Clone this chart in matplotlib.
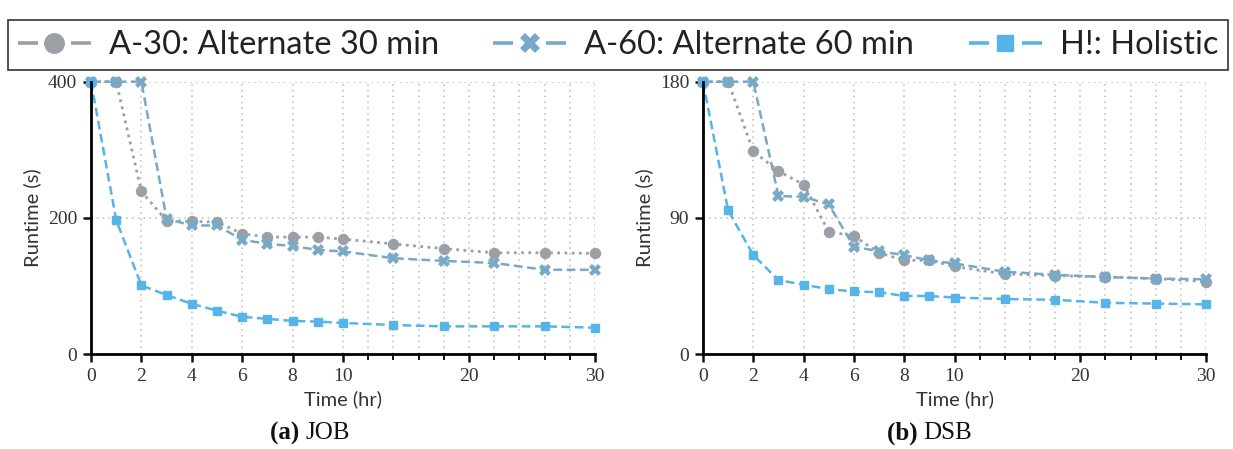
import numpy as np
import matplotlib
matplotlib.use("Agg")
import matplotlib.pyplot as plt
from matplotlib.lines import Line2D
from matplotlib.ticker import FixedLocator

# Time checkpoints (hours)
hours = [0, 1, 2, 3, 4, 5, 6, 7, 8, 9, 10, 14, 18, 22, 26, 30]

# JOB runtimes (s)
job_a30 = [400, 400, 239, 196, 195, 194, 177, 172, 172, 172, 169, 162, 155, 149, 149, 148]
job_a60 = [400, 400, 400, 199, 189, 189, 168, 162, 159, 153, 151, 141, 137, 134, 124, 124]
job_h = [400, 197, 101, 87, 74, 64, 55, 52, 49, 48, 46, 43, 41, 41, 41, 39]

# DSB runtimes (s)
dsb_a30 = [180, 180, 134, 121, 112, 81, 78, 67, 62, 62, 58, 53, 52, 51, 50, 48]
dsb_a60 = [180, 180, 180, 104.5, 104, 99, 71, 68, 65.5, 62, 60, 54.5, 52.5, 51, 50, 49.5]
dsb_h = [180, 95, 65.5, 49, 46, 43, 41.5, 41, 38.5, 38.5, 37.5, 36.5, 36, 34, 33.5, 33]

series_names = ["A-30: Alternate 30 min", "A-60: Alternate 60 min", "H!: Holistic"]
panel_titles = [("(a)", "JOB"), ("(b)", "DSB")]
y_limits = [400, 180]
y_ticks = [[0, 200, 400], [0, 90, 180]]
x_major = [0, 2, 4, 6, 8, 10, 20, 30]
x_minor = [12, 14, 16, 18, 22, 24, 26, 28]

c_a30 = "#9aa0a6"
c_a60 = "#78a9c6"
c_h = "#56b4e9"

SANS = ["Lato", "DejaVu Sans"]
SERIF = ["Liberation Serif", "DejaVu Serif"]


def fwd(x):
    x = np.asarray(x, dtype=float)
    return np.where(x <= 10, x, 10 + (x - 10) / 2.0)


def inv(y):
    y = np.asarray(y, dtype=float)
    return np.where(y <= 10, y, 10 + (y - 10) * 2.0)


W, H = 1233, 449
fig = plt.figure(figsize=(W / 100, H / 100), dpi=100)

axes_px = [(91, 595), (703, 1206)]
top_px, bot_px = 81.7, 354.3

datasets = [(job_a30, job_a60, job_h), (dsb_a30, dsb_a60, dsb_h)]

for i, (lpx, rpx) in enumerate(axes_px):
    ax = fig.add_axes([lpx / W, 1 - bot_px / H, (rpx - lpx) / W, (bot_px - top_px) / H])
    ax.set_xscale("function", functions=(fwd, inv))
    a30, a60, hh = datasets[i]

    ax.plot(hours, a30, color=c_a30, linestyle=(0, (1, 1.6)), lw=2.0,
            marker="o", markersize=7.2, clip_on=False, zorder=3)
    ax.plot(hours, a60, color=c_a60, linestyle=(0, (3.5, 1.8)), lw=1.8,
            marker="X", markersize=8.5, markeredgewidth=0, clip_on=False, zorder=4)
    ax.plot(hours, hh, color=c_h, linestyle=(0, (3.5, 1.8)), lw=1.8,
            marker="s", markersize=6, clip_on=False, zorder=5)

    ax.set_xlim(0, 30)
    ax.set_ylim(0, y_limits[i])
    ax.xaxis.set_major_locator(FixedLocator(x_major))
    ax.xaxis.set_minor_locator(FixedLocator(x_minor))
    ax.yaxis.set_major_locator(FixedLocator(y_ticks[i]))
    ax.yaxis.set_minor_locator(FixedLocator([]))

    for s in ["top", "right"]:
        ax.spines[s].set_visible(False)
    for s in ["left", "bottom"]:
        ax.spines[s].set_linewidth(2.0)
        ax.spines[s].set_zorder(6)

    ax.tick_params(axis="both", which="major", direction="out", length=6,
                   width=1.8, labelsize=14, colors="#111111", labelcolor="#333333", pad=4)
    ax.tick_params(axis="x", which="minor", direction="out", length=4, width=1.4,
                   colors="#111111")
    for lab in ax.get_xticklabels() + ax.get_yticklabels():
        lab.set_family(SERIF)

    ax.grid(True, which="both", axis="x", linestyle=(0, (1, 2.5)), color="#c4c4c4", lw=1.2)
    ax.grid(True, which="major", axis="y", linestyle=(0, (1, 2.5)), color="#c4c4c4", lw=1.2)
    ax.set_axisbelow(True)

    ax.set_xlabel("Time (hr)", family=SANS, fontsize=14.5, color="#333333", labelpad=4)
    ax.set_ylabel("Runtime (s)", family=SANS, fontsize=14.5, color="#333333", labelpad=5)

    # sub-figure caption, centred on each half of the figure
    cx = (0.25 if i == 0 else 0.751)
    fig.text(cx - 0.002, 1 - 433 / H, panel_titles[i][0] + " ", family=SERIF,
             fontweight="bold", fontsize=18, ha="right", va="center", color="#111111")
    fig.text(cx - 0.002, 1 - 433 / H, panel_titles[i][1], family=SERIF,
             fontsize=18, ha="left", va="center", color="#111111")

# Legend with custom handles: dash - marker - dash (dash lengths in points)
plt.rcParams["lines.scale_dashes"] = False
leg_dash = (0, (14.4, 23.8))
handles = [
    Line2D([], [], color=c_a30, lw=2.6, linestyle=leg_dash, marker="o", markersize=14),
    Line2D([], [], color=c_a60, lw=2.6, linestyle=leg_dash, marker="X", markersize=14,
           markeredgewidth=0),
    Line2D([], [], color=c_h, lw=2.6, linestyle=leg_dash, marker="s", markersize=11),
]
leg = fig.legend(handles, series_names, loc="lower left", ncol=3, mode="expand",
                 bbox_to_anchor=(8 / W, 1 - 70 / H, 1220 / W, 65 / H),
                 prop={"family": SANS, "size": 23.5}, frameon=True, fancybox=False,
                 edgecolor="black", handlelength=2.24, handletextpad=0.55,
                 borderpad=0.3, borderaxespad=0)
leg.get_frame().set_linewidth(1.2)
for t in leg.get_texts():
    t.set_color("#222222")

fig.savefig("out.png", dpi=100)
